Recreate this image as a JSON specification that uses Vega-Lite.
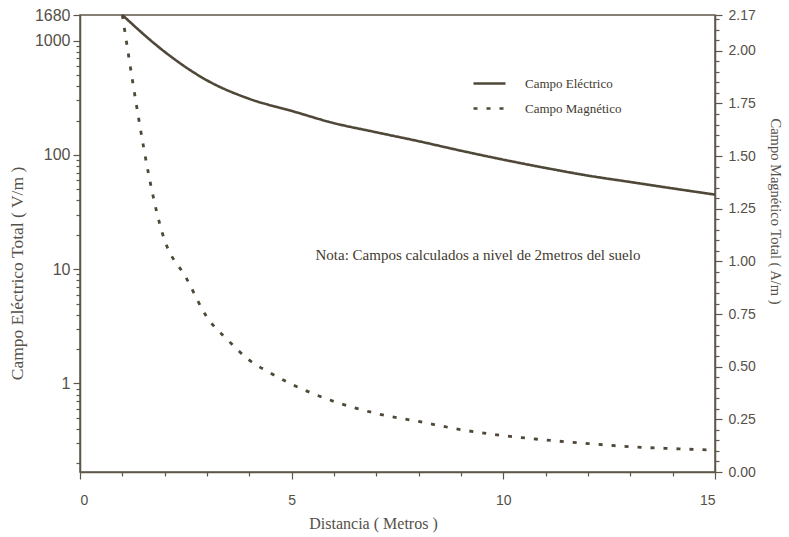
{
  "$schema": "https://vega.github.io/schema/vega-lite/v6.json",
  "width": 635,
  "height": 457,
  "autosize": {"type": "none"},
  "padding": {"left": 80, "top": 15, "right": 74, "bottom": 65},
  "background": "#ffffff",
  "config": {
    "view": {"stroke": "#5e5749", "strokeWidth": 1.5},
    "axis": {
      "domainColor": "#5e5749",
      "domainWidth": 1.5,
      "tickColor": "#5e5749",
      "tickWidth": 1.2,
      "grid": false,
      "labelColor": "#555048",
      "labelFont": "Liberation Sans",
      "labelFontSize": 14,
      "titleColor": "#555048",
      "titleFont": "Liberation Serif",
      "titleFontSize": 15,
      "titleFontWeight": "normal"
    },
    "legend": {
      "labelFont": "Liberation Serif",
      "labelFontSize": 13,
      "labelColor": "#3f3a30"
    }
  },
  "datasets": {
    "electrico": [
      {"d": 1, "v": 1680, "serie": "Campo Eléctrico"},
      {"d": 2, "v": 800, "serie": "Campo Eléctrico"},
      {"d": 3, "v": 450, "serie": "Campo Eléctrico"},
      {"d": 4, "v": 310, "serie": "Campo Eléctrico"},
      {"d": 5, "v": 243, "serie": "Campo Eléctrico"},
      {"d": 6, "v": 190, "serie": "Campo Eléctrico"},
      {"d": 7, "v": 158, "serie": "Campo Eléctrico"},
      {"d": 8, "v": 132, "serie": "Campo Eléctrico"},
      {"d": 9, "v": 109, "serie": "Campo Eléctrico"},
      {"d": 10, "v": 91, "serie": "Campo Eléctrico"},
      {"d": 11, "v": 77, "serie": "Campo Eléctrico"},
      {"d": 12, "v": 66, "serie": "Campo Eléctrico"},
      {"d": 13, "v": 58, "serie": "Campo Eléctrico"},
      {"d": 14, "v": 51, "serie": "Campo Eléctrico"},
      {"d": 15, "v": 45, "serie": "Campo Eléctrico"}
    ],
    "magnetico": [
      {"d": 1, "v": 2.17, "serie": "Campo Magnético"},
      {"d": 2, "v": 1.10, "serie": "Campo Magnético"},
      {"d": 2.5, "v": 0.925, "serie": "Campo Magnético"},
      {"d": 3, "v": 0.735, "serie": "Campo Magnético"},
      {"d": 3.5, "v": 0.625, "serie": "Campo Magnético"},
      {"d": 4, "v": 0.531, "serie": "Campo Magnético"},
      {"d": 4.5, "v": 0.47, "serie": "Campo Magnético"},
      {"d": 5, "v": 0.417, "serie": "Campo Magnético"},
      {"d": 6, "v": 0.335, "serie": "Campo Magnético"},
      {"d": 7, "v": 0.278, "serie": "Campo Magnético"},
      {"d": 8, "v": 0.240, "serie": "Campo Magnético"},
      {"d": 9, "v": 0.201, "serie": "Campo Magnético"},
      {"d": 10, "v": 0.173, "serie": "Campo Magnético"},
      {"d": 11, "v": 0.152, "serie": "Campo Magnético"},
      {"d": 12, "v": 0.135, "serie": "Campo Magnético"},
      {"d": 13, "v": 0.120, "serie": "Campo Magnético"},
      {"d": 14, "v": 0.111, "serie": "Campo Magnético"},
      {"d": 15, "v": 0.104, "serie": "Campo Magnético"}
    ],
    "nota": [
      {"d": 9.4, "v": 13.2, "texto": "Nota: Campos calculados a nivel de 2metros del suelo"}
    ]
  },
  "layer": [
    {
      "layer": [
        {
          "data": {"name": "electrico"},
          "mark": {"type": "line", "color": "#4f4838", "strokeWidth": 2.6, "interpolate": "monotone"},
          "encoding": {
            "x": {
              "field": "d", "type": "quantitative",
              "scale": {"domain": [0, 15], "nice": false, "zero": false},
              "axis": {
                "title": "Distancia ( Metros )",
                "titleFontSize": 16,
                "values": [0,1,2,3,4,5,6,7,8,9,10,11,12,13,14,15],
                "labelExpr": "datum.value % 5 == 0 ? format(datum.value, 'd') : ''",
                "tickSize": {"condition": {"test": "datum.value % 5 == 0", "value": 7}, "value": 4},
                "labelPadding": 14,
                "titlePadding": 8,
                "titleX": 293
              }
            },
            "y": {
              "field": "v", "type": "quantitative",
              "scale": {"type": "log", "domain": [0.168, 1680], "nice": false},
              "axis": {
                "orient": "left",
                "title": "Campo Eléctrico Total ( V/m )",
                "titleFontSize": 17.5,
                "labelFontSize": 16,
                "values": [0.2,0.3,0.4,0.5,0.6,0.7,0.8,0.9,1,2,3,4,5,6,7,8,9,10,20,30,40,50,60,70,80,90,100,200,300,400,500,600,700,800,900,1000,1680],
                "labelExpr": "indexof([1,10,100,1000,1680], datum.value) >= 0 ? format(datum.value, 'd') : ''",
                "tickSize": {"condition": {"test": "indexof([1,10,100,1000,1680], datum.value) >= 0", "value": 7}, "value": 4},
                "labelPadding": 3,
                "titlePadding": 8,
                "titleY": 258
              }
            },
            "strokeDash": {
              "field": "serie", "type": "nominal",
              "scale": {"domain": ["Campo Eléctrico", "Campo Magnético"], "range": [[1, 0], [4, 9]]},
              "legend": {
                "title": null,
                "orient": "none",
                "legendX": 392,
                "legendY": 51,
                "symbolType": "stroke",
                "symbolSize": 1024,
                "symbolStrokeWidth": 2.6,
                "symbolStrokeColor": "#4f4838",
                "labelOffset": 18,
                "rowPadding": -4
              }
            }
          }
        },
        {
          "data": {"name": "nota"},
          "mark": {"type": "text", "font": "Liberation Serif", "fontSize": 15, "color": "#3f3a30", "align": "center", "baseline": "middle"},
          "encoding": {
            "x": {"field": "d", "type": "quantitative"},
            "y": {"field": "v", "type": "quantitative"},
            "text": {"field": "texto"}
          }
        }
      ]
    },
    {
      "data": {"name": "magnetico"},
      "mark": {"type": "line", "color": "#4f4838", "strokeWidth": 2.8, "interpolate": "monotone"},
      "encoding": {
        "x": {"field": "d", "type": "quantitative"},
        "y": {
          "field": "v", "type": "quantitative",
          "scale": {"domain": [0, 2.17], "nice": false, "zero": true},
          "axis": {
            "orient": "right",
            "title": "Campo Magnético Total ( A/m )",
            "titleFontSize": 14.5,
            "titleAngle": 90,
            "values": [0,0.05,0.1,0.15,0.2,0.25,0.3,0.35,0.4,0.45,0.5,0.55,0.6,0.65,0.7,0.75,0.8,0.85,0.9,0.95,1,1.05,1.1,1.15,1.2,1.25,1.3,1.35,1.4,1.45,1.5,1.55,1.6,1.65,1.7,1.75,1.8,1.85,1.9,1.95,2,2.05,2.1,2.15,2.17],
            "labelExpr": "(abs(datum.value*4 - round(datum.value*4)) < 0.000001 || datum.value == 2.17) ? format(datum.value, '.2f') : ''",
            "tickSize": {"condition": {"test": "abs(datum.value*4 - round(datum.value*4)) < 0.000001 || datum.value == 2.17", "value": 7}, "value": 4},
            "labelPadding": 6,
            "titlePadding": 12,
            "titleY": 196
          }
        },
        "strokeDash": {"field": "serie", "type": "nominal"}
      }
    }
  ],
  "resolve": {"scale": {"y": "independent"}, "axis": {"y": "independent"}}
}
